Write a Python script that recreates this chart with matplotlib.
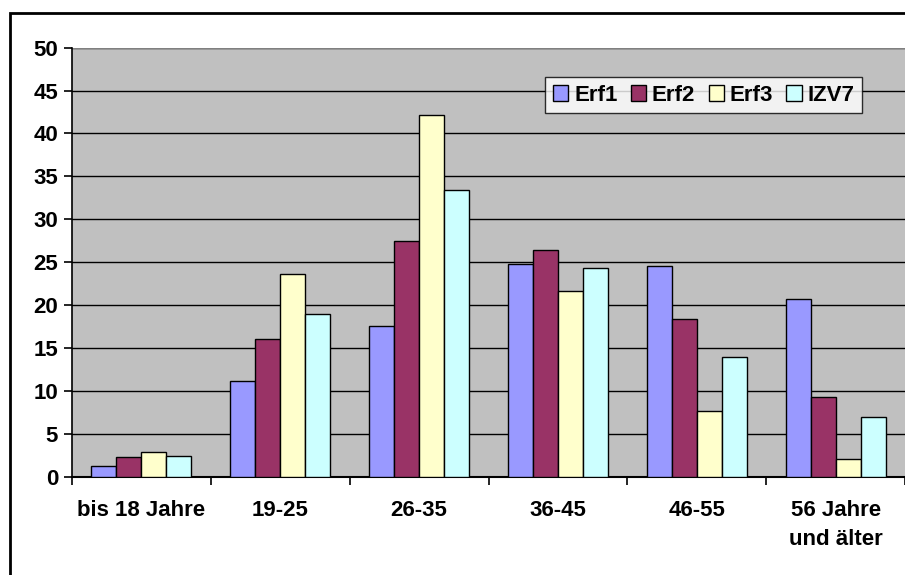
import matplotlib
matplotlib.use("Agg")
import matplotlib.pyplot as plt
import numpy as np
from matplotlib.patches import Rectangle

categories = ["bis 18 Jahre", "19-25", "26-35", "36-45", "46-55", "56 Jahre\nund älter"]
series_names = ["Erf1", "Erf2", "Erf3", "IZV7"]
erf1 = [1.3, 11.2, 17.6, 24.8, 24.5, 20.7]
erf2 = [2.3, 16.1, 27.5, 26.4, 18.4, 9.3]
erf3 = [2.9, 23.6, 42.1, 21.7, 7.7, 2.1]
izv7 = [2.4, 19.0, 33.4, 24.3, 14.0, 6.9]
colors = ["#9999FF", "#993366", "#FFFFCC", "#CCFFFF"]
yticks = list(range(0, 51, 5))

plt.rcParams['font.family'] = ['Liberation Sans', 'DejaVu Sans']
plt.rcParams['font.weight'] = 'bold'

fig = plt.figure(figsize=(9.05, 5.75), dpi=100)
fig.patch.set_facecolor('white')
ax = fig.add_axes([72/905, (575-476.7)/575, 833/905, 429/575])
ax.set_facecolor('#C0C0C0')

x = np.arange(len(categories))
w = 0.18
data = [erf1, erf2, erf3, izv7]
for i, (vals, c, n) in enumerate(zip(data, colors, series_names)):
    ax.bar(x + (i - 1.5) * w, vals, width=w, color=c, edgecolor='black', linewidth=1.0, label=n, zorder=3)

ax.set_xlim(-0.5, len(categories) - 0.5)
ax.set_ylim(0, 50)
ax.set_yticks(yticks)
ax.set_yticklabels([str(t) for t in yticks], fontsize=16, fontweight='bold')
ax.yaxis.grid(True, color='black', linewidth=1.0, zorder=1)
ax.set_axisbelow(True)

ax.set_xticks(np.arange(-0.5, len(categories) + 0.5, 1.0))
ax.set_xticklabels([])
ax.set_xticks(x, minor=True)
ax.set_xticklabels(categories, minor=True, fontsize=16, fontweight='bold', va='top', linespacing=1.45)
ax.tick_params(axis='x', which='minor', length=0, pad=17)
ax.tick_params(axis='x', which='major', length=6, width=1.2, direction='out')
ax.tick_params(axis='y', length=6, width=1.2, direction='out', pad=4)

for s in ['top', 'right']:
    ax.spines[s].set_visible(False)
ax.spines['left'].set_linewidth(1.2)
ax.spines['bottom'].set_linewidth(1.5)
ax.axhline(50, color='#808080', linewidth=1.5, zorder=2)

leg = ax.legend(loc='upper left', bbox_to_anchor=(0.568, 0.932), ncol=4, frameon=True,
                fancybox=False, edgecolor='black', fontsize=16,
                handlelength=0.7, handleheight=0.7, handletextpad=0.25, columnspacing=0.6,
                borderpad=0.35, borderaxespad=0)
leg.get_frame().set_linewidth(1.0)
for t in leg.get_texts():
    t.set_fontweight('bold')

fig.patches.append(Rectangle((10/905, -0.1), 1.2, (575-13)/575 + 0.1, transform=fig.transFigure,
                             fill=False, edgecolor='black', linewidth=2.0))

fig.savefig('out.png', dpi=100)
